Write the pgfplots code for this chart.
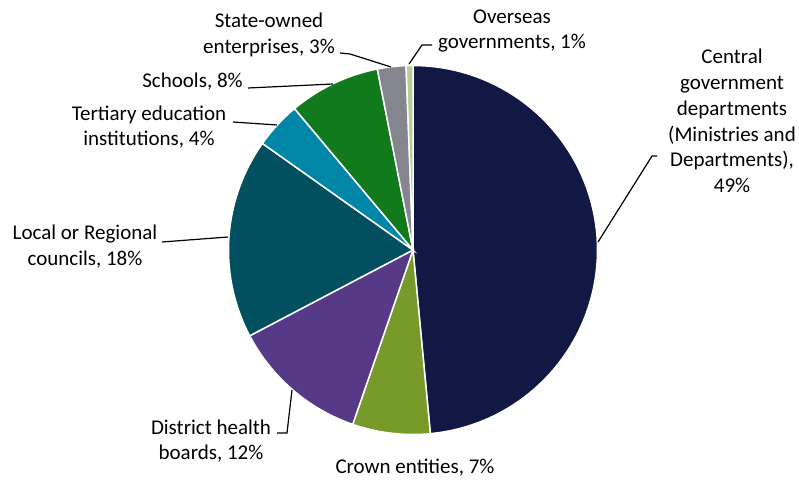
\documentclass[border=0pt]{standalone}
\usepackage{pgfplots}
\usepackage{pgfplotstable}
\pgfplotsset{compat=1.18}
\usepackage{fontspec}
\setmainfont{Carlito}
\definecolor{cCentral}{HTML}{101843}
\definecolor{cCrown}{HTML}{789A2A}
\definecolor{cDHB}{HTML}{573A87}
\definecolor{cLocal}{HTML}{02505F}
\definecolor{cTert}{HTML}{0087A8}
\definecolor{cSchools}{HTML}{117A1D}
\definecolor{cSOE}{HTML}{858590}
\definecolor{cOver}{HTML}{B6CC90}
\pgfplotstableread{
label value color
Central 48.5 cCentral
Crown 6.8 cCrown
DHB 12.0 cDHB
Local 17.5 cLocal
Tertiary 4.1 cTert
Schools 8.0 cSchools
SOE 2.5 cSOE
Overseas 0.6 cOver
}\pietable
\begin{document}
\begin{tikzpicture}
\begin{axis}[name=ax, scale only axis, width=799pt, height=482pt,
  xmin=0, xmax=799, ymin=0, ymax=482, hide axis, clip=false]
\def\mycum{0}
\pgfplotsforeachungrouped \i in {0,...,7}{%
  \pgfplotstablegetelem{\i}{value}\of\pietable \let\myv\pgfplotsretval
  \pgfplotstablegetelem{\i}{color}\of\pietable \let\mycol\pgfplotsretval
  \pgfmathsetmacro\mya{\mycum*3.6}%
  \pgfmathsetmacro\myb{(\mycum+\myv)*3.6}%
  \edef\temp{\noexpand\addplot[fill=\mycol, draw=white, line width=1.5pt, domain=\mya:\myb, samples=80] ({413+184.5*sin(x)},{232+184.5*cos(x)}) -- (axis cs:413,232) -- cycle;}%
  \temp
  \pgfmathsetmacro\mycum{\mycum+\myv}%
}
\begin{scope}[every node/.style={align=center, inner sep=0pt, font=\fontsize{21}{25.7}\selectfont}]
\node at (axis cs:269,447) {State-owned\\enterprises, 3\%};
\node at (axis cs:512,451) {Overseas\\governments, 1\%};
\node at (axis cs:732,361) {Central\\government\\departments\\(Ministries and\\Departments),\\49\%};
\node at (axis cs:192.5,400) {Schools, 8\%};
\node at (axis cs:149,355) {Tertiary education\\institutions, 4\%};
\node at (axis cs:85,235.5) {Local or Regional\\councils, 18\%};
\node at (axis cs:211,41) {District health\\boards, 12\%};
\node at (axis cs:415,14) {Crown entities, 7\%};
\end{scope}
\begin{scope}[line width=1.2pt, black]
\draw (axis cs:340,429) -- (axis cs:350,428) -- (axis cs:391,415);
\draw (axis cs:432,437) -- (axis cs:422,437) -- (axis cs:409,418);
\draw (axis cs:657,326) -- (axis cs:652,326) -- (axis cs:598,240);
\draw (axis cs:248,394) -- (axis cs:333,398);
\draw (axis cs:233,360) -- (axis cs:277,357);
\draw (axis cs:162,240) -- (axis cs:228,245);
\draw (axis cs:277,49) -- (axis cs:287,49) -- (axis cs:292,92);
\end{scope}
\end{axis}
\pgfresetboundingbox
\useasboundingbox (ax.south west) rectangle (ax.north east);
\end{tikzpicture}
\end{document}
